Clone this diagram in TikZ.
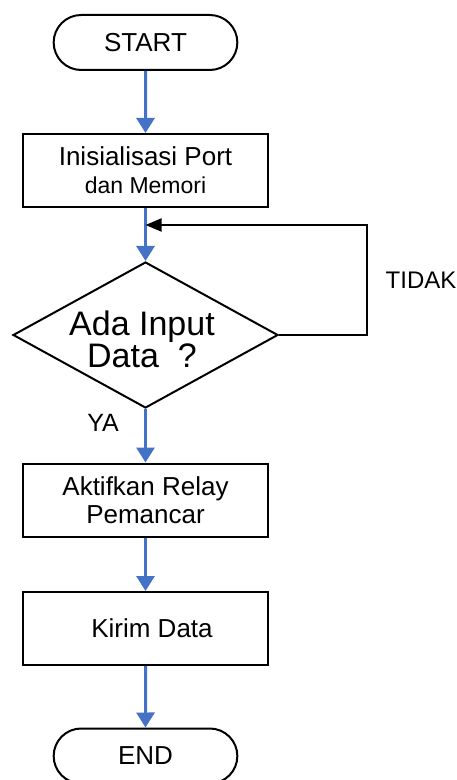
\documentclass[tikz,border=0pt]{standalone}
\usepackage{fontspec}
\setmainfont{Liberation Sans}
\usetikzlibrary{shapes.geometric,shapes.misc,arrows.meta}

\definecolor{flowblue}{RGB}{68,114,196}

\begin{document}
\begin{tikzpicture}[x=0.5pt,y=-0.5pt,
	every node/.style={font=\fontsize{13}{14}\selectfont},
	terminal/.style={draw,line width=1pt,rounded rectangle,minimum width=98.5pt,minimum height=27.5pt},
	process/.style={draw,line width=1pt,rectangle,minimum width=122.5pt,minimum height=36.5pt,align=center},
	decision/.style={draw,line width=1pt,diamond,minimum width=132.5pt,minimum height=73pt,inner sep=0pt},
	flow/.style={flowblue,line width=1.5pt,-{Triangle[length=7.5pt,width=9pt]}},
	back/.style={black,line width=1pt,-{Triangle[length=8pt,width=6.5pt]}}]
	\clip (0,0) rectangle (456,780);
	\node[terminal] (start) at (145.5,42.5) {START};
	\node[process] (init) at (145.5,170.5) {Inisialisasi Port\\{\fontsize{11.5}{12}\selectfont dan Memori}};
	\node[decision] (dec) at (145.5,335) {};
	\node[align=center,font=\fontsize{17}{16}\selectfont] (ask) at (142,339) {Ada Input\\Data\ \ ?};
	\node[process] (relay) at (145.5,500) {Aktifkan Relay\\Pemancar};
	\node[process] (kirim) at (145.5,628.5) {\hspace*{6.5pt}Kirim Data};
	\node[terminal] (end) at (145.5,756) {END};
	\coordinate (join) at (145.5,225);
	% labels
	\node[font=\fontsize{12}{14}\selectfont] (tidak) at (421,280) {TIDAK};
	\node[font=\fontsize{12.5}{14}\selectfont] (ya) at (103,423) {YA};
	% arrows
	\draw[flow] (start) -- (init);
	\draw[flow] (init) -- (dec);
	\draw[flow] (dec) -- (relay);
	\draw[flow] (relay) -- (kirim);
	\draw[flow] (kirim) -- (end);
	\draw[back] (dec.east) -- ++(88,0) |- (join);
\end{tikzpicture}
\end{document}
